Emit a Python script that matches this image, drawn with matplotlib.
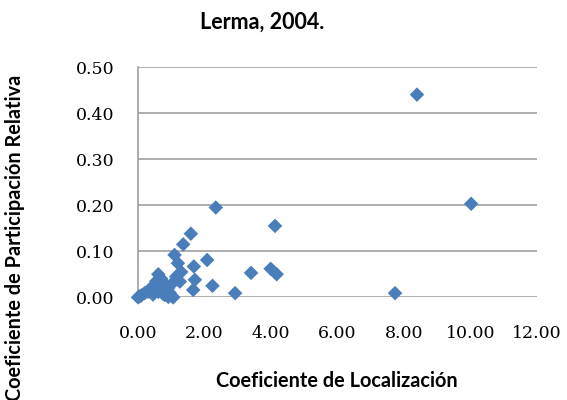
import matplotlib
matplotlib.use("Agg")
import matplotlib.pyplot as plt

title = "Lerma, 2004."
xlabel = "Coeficiente de Localización"
ylabel = "Coeficiente de Participación Relativa"

loc_coef = [8.39, 10.02, 7.73, 4.12, 3.40, 3.99, 4.17, 2.92, 2.34, 1.59, 1.36, 1.10,
            1.20, 2.08, 1.68, 1.71, 1.66, 2.24, 0.61, 0.76, 0.41, 0.00, 0.20, 0.91,
            1.06, 0.61, 1.26, 1.01, 0.36, 0.05, 0.10, 0.30, 0.50, 0.70, 0.85, 1.15,
            0.95, 0.80, 0.55, 0.65, 1.00, 1.30, 0.45, 0.75, 0.90]
part_coef = [0.440, 0.203, 0.009, 0.155, 0.053, 0.062, 0.050, 0.009, 0.195, 0.138, 0.115, 0.092,
             0.074, 0.081, 0.067, 0.038, 0.016, 0.025, 0.050, 0.030, 0.020, 0.000, 0.009, 0.001,
             0.000, 0.012, 0.034, 0.003, 0.018, 0.002, 0.004, 0.012, 0.022, 0.040, 0.025, 0.045,
             0.010, 0.005, 0.035, 0.015, 0.028, 0.055, 0.006, 0.008, 0.020]

xticks = [0, 2, 4, 6, 8, 10, 12]
yticks = [0.0, 0.1, 0.2, 0.3, 0.4, 0.5]

fig = plt.figure(figsize=(5.67, 4.0), dpi=100)
ax = fig.add_axes([138/567, 1-297.3/400, (537-138)/567, (297.3-67)/400])

ax.scatter(loc_coef, part_coef, marker="D", s=55, color="#4a7ebb", edgecolors="none", zorder=3, clip_on=False)

ax.set_xlim(0, 12)
ax.set_ylim(0, 0.5)
ax.set_xticks(xticks)
ax.set_yticks(yticks)
ax.set_xticklabels([f"{v:.2f}" for v in xticks], fontfamily="DejaVu Serif", fontsize=12.5)
ax.set_yticklabels([f"{v:.2f}" for v in yticks], fontfamily="DejaVu Serif", fontsize=12.5)
ax.tick_params(axis="y", length=0, pad=17)
ax.tick_params(axis="x", length=0, pad=20)
ax.grid(axis="y", color="#a0a0a0", linewidth=1.2)
ax.set_axisbelow(True)
for s in ["top", "right", "bottom"]:
    ax.spines[s].set_visible(False)
ax.spines["left"].set_color("#a0a0a0")
ax.spines["left"].set_linewidth(1.2)

fig.text(262/567, 1-22/400, title, ha="center", va="center", fontfamily="Lato", fontweight="bold", fontsize=15.5)
fig.text(337/567, 1-381/400, xlabel, ha="center", va="center", fontfamily="Lato", fontweight="bold", fontsize=14.3)
fig.text(15/567, 1-238/400, ylabel, ha="center", va="center", rotation=90, fontfamily="Lato", fontweight="bold", fontsize=14.3)

fig.savefig("out.png", dpi=100)
